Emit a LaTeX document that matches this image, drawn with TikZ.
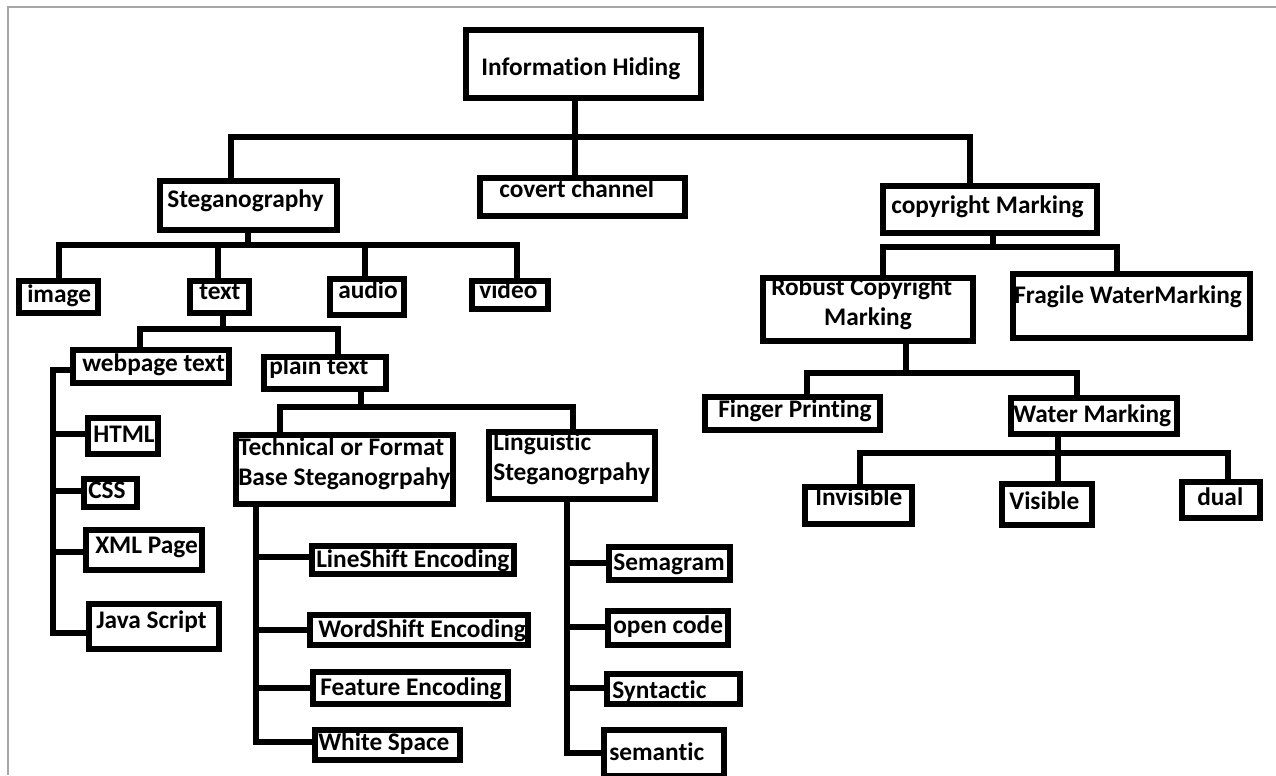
\documentclass[tikz,border=0pt]{standalone}
\usepackage{fontspec}
\setmainfont[Ligatures=NoCommon]{Carlito}
\newcommand\bxnode[5]{\node[bx,minimum width={(#4-#2-6)*0.75pt},minimum height={(#5-#3-6)*0.75pt}] (#1) at ({(#2+#4)/2},{(#3+#5)/2}) {};}
\begin{document}
\begin{tikzpicture}[x=0.75pt,y=-0.75pt,
  bx/.style={draw=black,fill=white,line width=4.5pt,inner sep=0pt,rectangle},
  lbl/.style={anchor=base west,inner sep=0pt,font=\fontsize{19}{22}\selectfont\bfseries},
  conn/.style={draw=black,line width=4pt,line join=miter}]
\useasboundingbox (0,0) rectangle (1276,775);
\fill[white] (0,0) rectangle (1276,775);
\draw[gray!70,line width=1.2pt] (8,775) -- (8,7) -- (1276,7);

% boxes
\bxnode{ih}{463}{27}{704}{101}
\bxnode{steg}{157}{178}{340}{233}
\bxnode{cc}{477}{175}{688}{219}
\bxnode{cm}{880}{183}{1100}{236}
\bxnode{img}{16}{278}{101}{316}
\bxnode{txt}{187}{278}{252}{316}
\bxnode{aud}{327}{276}{407}{318}
\bxnode{vid}{469}{278}{551}{312}
\bxnode{webp}{70}{347}{232}{386}
\bxnode{plain}{261}{354}{389}{392}
\bxnode{html}{85}{415}{161}{457}
\bxnode{css}{81}{476}{140}{510}
\bxnode{xml}{83}{527}{205}{573}
\bxnode{js}{86}{601}{222}{652}
\bxnode{tech}{233}{432}{456}{507}
\bxnode{ling}{486}{429}{658}{502}
\bxnode{ls}{309}{543}{517}{577}
\bxnode{wsh}{307}{612}{531}{648}
\bxnode{fe}{310}{669}{511}{707}
\bxnode{wsp}{312}{727}{463}{763}
\bxnode{sg}{606}{544}{733}{583}
\bxnode{oc}{605}{608}{731}{648}
\bxnode{syn}{604}{671}{743}{707}
\bxnode{sem}{601}{727}{727}{779}
\bxnode{rob}{760}{275}{976}{344}
\bxnode{frag}{1010}{271}{1253}{341}
\bxnode{fp}{702}{394}{883}{433}
\bxnode{wm}{1008}{395}{1180}{437}
\bxnode{inv}{802}{484}{915}{527}
\bxnode{vis}{999}{481}{1095}{528}
\bxnode{dual}{1179}{479}{1263}{521}

% connectors
\path[conn] (steg.north -| 231,0) -- (231,137) -- (970,137) -- (cm.north -| 970,0);
\path[conn] (ih.south -| 575,0) -- (cc.north -| 575,0);

\path[conn] (steg.south -| 248,0) -- (248,245);
\path[conn] (img.north -| 59,0) -- (59,245) -- (517,245) -- (vid.north -| 517,0);
\path[conn] (218,245) -- (txt.north -| 218,0);
\path[conn] (365,245) -- (aud.north -| 365,0);

\path[conn] (txt.south -| 223,0) -- (223,329);
\path[conn] (webp.north -| 140,0) -- (140,329) -- (338,329) -- (plain.north -| 338,0);

\path[conn] (webp.west |- 0,370) -- (53,370) -- (53,633) -- (js.west |- 0,633);
\path[conn] (53,434) -- (html.west |- 0,434);
\path[conn] (53,491) -- (css.west |- 0,491);
\path[conn] (53,552) -- (xml.west |- 0,552);

\path[conn] (plain.south -| 361,0) -- (361,407);
\path[conn] (tech.north -| 280,0) -- (280,407) -- (573,407) -- (ling.north -| 573,0);

\path[conn] (tech.south -| 256,0) -- (256,742) -- (wsp.west |- 0,742);
\path[conn] (256,557) -- (ls.west |- 0,557);
\path[conn] (256,630) -- (wsh.west |- 0,630);
\path[conn] (256,688) -- (fe.west |- 0,688);

\path[conn] (ling.south -| 567,0) -- (567,753) -- (sem.west |- 0,753);
\path[conn] (567,563) -- (sg.west |- 0,563);
\path[conn] (567,627) -- (oc.west |- 0,627);
\path[conn] (567,688) -- (syn.west |- 0,688);

\path[conn] (cm.south -| 993,0) -- (993,247);
\path[conn] (rob.north -| 883,0) -- (883,247) -- (1117,247) -- (frag.north -| 1117,0);

\path[conn] (rob.south -| 906,0) -- (906,373);
\path[conn] (fp.north -| 807,0) -- (807,373) -- (1077,373) -- (wm.north -| 1077,0);

\path[conn] (wm.south -| 1058,0) -- (vis.north -| 1058,0);
\path[conn] (inv.north -| 860,0) -- (860,453) -- (1228,453) -- (dual.north -| 1228,0);

% labels
\node[lbl] (ih-t) at (481,75) {Information Hiding};
\node[lbl] (steg-t) at (167,207) {Steganography};
\node[lbl] (cc-t) at (499,197) {covert channel};
\node[lbl] (cm-t) at (891,213) {copyright Marking};
\node[lbl] (img-t) at (27,302) {image};
\node[lbl] (txt-t) at (199,299) {text};
\node[lbl] (aud-t) at (338,298) {audio};
\node[lbl] (vid-t) at (479,298) {video};
\node[lbl] (webp-t) at (82,371) {webpage text};
\node[lbl] (plain-t) at (269,374) {plain text};
\node[lbl] (html-t) at (93,442) {HTML};
\node[lbl] (css-t) at (88,498) {CSS};
\node[lbl] (xml-t) at (95,553) {XML Page};
\node[lbl] (js-t) at (96,628) {Java Script};
\node[lbl] (tech-t1) at (238,455) {Technical or Format};
\node[lbl] (tech-t2) at (238,485) {Base Steganogrpahy};
\node[lbl] (ling-t1) at (493,450) {Linguistic};
\node[lbl] (ling-t2) at (493,480) {Steganogrpahy};
\node[lbl] (ls-t) at (316,567) {LineShift Encoding};
\node[lbl] (wsh-t) at (318,637) {WordShift Encoding};
\node[lbl] (fe-t) at (320,695) {Feature Encoding};
\node[lbl] (wsp-t) at (318,750) {White Space};
\node[lbl] (sg-t) at (613,570) {Semagram};
\node[lbl] (oc-t) at (613,633) {open code};
\node[lbl] (syn-t) at (612,698) {Syntactic};
\node[lbl] (sem-t) at (609,760) {semantic};
\node[lbl] (rob-t1) at (771,295) {Robust Copyright};
\node[lbl,anchor=base] (rob-t2) at (868,325) {Marking};
\node[lbl] (frag-t) at (1014,303) {Fragile WaterMarking};
\node[lbl] (fp-t) at (718,417) {Finger Printing};
\node[lbl] (wm-t) at (1013,422) {Water Marking};
\node[lbl] (inv-t) at (815,505) {Invisible};
\node[lbl] (vis-t) at (1009,509) {Visible};
\node[lbl] (dual-t) at (1197,505) {dual};
\end{tikzpicture}
\end{document}
